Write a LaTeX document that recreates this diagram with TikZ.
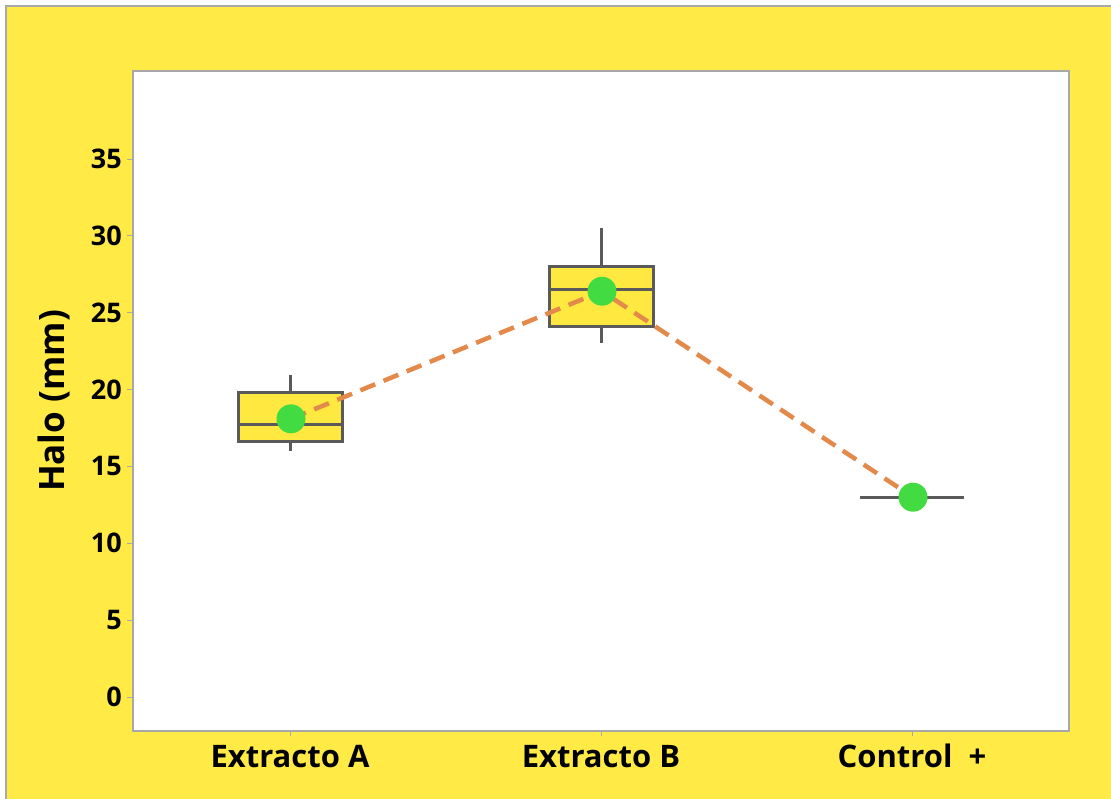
\documentclass[tikz,border=0pt]{standalone}
\usepackage{fontspec}
\setmainfont{Open Sans}
\definecolor{panel}{HTML}{FFEA46}
\definecolor{boxfill}{HTML}{FFE940}
\definecolor{boxline}{HTML}{5A5A5A}
\definecolor{meandot}{HTML}{42DC42}
\definecolor{meanline}{HTML}{E3894A}
\definecolor{frame}{HTML}{A8A8A8}
\begin{document}
\begin{tikzpicture}[x=1pt,y=-1pt,
  ticklabel/.style={anchor=east,font=\fontsize{27}{27}\selectfont\bfseries,inner sep=0pt},
  catlabel/.style={anchor=base,font=\fontsize{31}{31}\selectfont\bfseries,inner sep=0pt},
  boxstroke/.style={draw=boxline,line width=3pt},
  whisker/.style={draw=boxline,line width=3pt},
  meanpt/.style={circle,fill=meandot,minimum size=29pt,inner sep=0pt},
  meanconn/.style={draw=meanline,line width=4.5pt,dash pattern=on 16pt off 9pt},
  tickmark/.style={draw=frame,line width=1pt}]
% page background and panel
\fill[white] (0,0) rectangle (1111,798);
\useasboundingbox (0,0) rectangle (1111,798);
\filldraw[fill=panel,draw=frame,line width=1.2pt] (6,6) rectangle (1115,802);
% plotting area
\filldraw[fill=white,draw=frame,line width=1.2pt] (133,71) rectangle (1069,731);
% y axis ticks and labels
\foreach \v in {0,5,...,35}{
  \draw[tickmark] (127,{697-15.37*\v}) -- (133,{697-15.37*\v});
  \node[ticklabel] at (122,{697-15.37*\v}) {\v};
}
% x axis ticks
\foreach \x in {290,601,912}{
  \draw[tickmark] (\x,731) -- (\x,736);
}
% axis title and categories
\node[rotate=90,font=\fontsize{35}{35}\selectfont\bfseries,inner sep=0pt] (ytitle) at (54,401) {Halo (mm)};
\node[catlabel] (catA) at (290,767) {Extracto A};
\node[catlabel] (catB) at (601,767) {Extracto B};
\node[catlabel] (catC) at (912,767) {Control\ \ +};
% Extracto A box
\draw[whisker] (290,{697-15.37*20.95}) -- (290,{697-15.37*19.78});
\draw[whisker] (290,{697-15.37*16.6}) -- (290,{697-15.37*16.0});
\filldraw[boxstroke,fill=boxfill] (238,{697-15.37*19.78}) rectangle (342,{697-15.37*16.6});
\draw[boxstroke] (238,{697-15.37*17.7}) -- (342,{697-15.37*17.7});
% Extracto B box
\draw[whisker] (601,{697-15.37*30.5}) -- (601,{697-15.37*28.0});
\draw[whisker] (601,{697-15.37*24.1}) -- (601,{697-15.37*23.0});
\filldraw[boxstroke,fill=boxfill] (549,{697-15.37*28.0}) rectangle (653,{697-15.37*24.1});
\draw[boxstroke] (549,{697-15.37*26.5}) -- (653,{697-15.37*26.5});
% Control + (single value)
\draw[boxstroke] (860,{697-15.37*13.0}) -- (964,{697-15.37*13.0});
% means
\coordinate (pA) at (291,{697-15.37*18.1});
\coordinate (pB) at (602,{697-15.37*26.4});
\coordinate (pC) at (913,{697-15.37*13.0});
\draw[meanconn] (pA) -- (pB) -- (pC);
\node[meanpt] (mA) at (pA) {};
\node[meanpt] (mB) at (pB) {};
\node[meanpt] (mC) at (pC) {};
\end{tikzpicture}
\end{document}
